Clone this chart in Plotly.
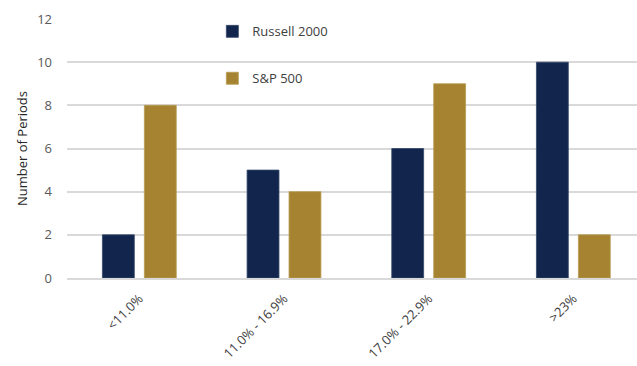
import plotly.graph_objects as go

categories = ["<11.0%", "11.0% - 16.9%", "17.0% - 22.9%", ">23%"]
russell = [2, 5, 6, 10]
sp500 = [8, 4, 9, 2]
y_ticks = [0, 2, 4, 6, 8, 10, 12]

navy = "#12264d"
gold = "#a58331"

fig = go.Figure()
fig.add_trace(go.Bar(x=categories, y=russell, name="Russell 2000",
                     marker=dict(color=navy, line=dict(color="#34466a", width=0.8)),
                     legendgroup="a"))
fig.add_trace(go.Bar(x=categories, y=sp500, name="S&P 500",
                     marker=dict(color=gold, line=dict(color="#b99a52", width=0.8)),
                     legendgroup="b"))

fig.update_layout(
    width=637, height=366,
    margin=dict(l=67, r=0, t=19, b=88),
    plot_bgcolor="white", paper_bgcolor="white",
    barmode="group", bargap=0.42, bargroupgap=0.24,
    font=dict(family="Open Sans, Arial, sans-serif", color="#404040", size=12),
    legend=dict(x=0.255, y=1.01, xanchor="left", yanchor="top",
                bgcolor="rgba(0,0,0,0)", tracegroupgap=27,
                font=dict(size=13, color="#404040"), itemwidth=30),
    showlegend=True,
)
fig.update_xaxes(
    range=[-0.5, 3.44], tickangle=-45, showgrid=False,
    showline=True, linecolor="#d9d9d9", linewidth=2,
    ticks="", ticklabelstandoff=6, tickfont=dict(size=13, color="#404040"),
)
fig.update_yaxes(
    range=[0, 12], tickvals=y_ticks, showgrid=True, gridcolor="#d9d9d9", gridwidth=1.8,
    zeroline=False, showline=False, ticks="", ticklabelstandoff=14,
    tickfont=dict(size=13, color="#595959"),
    title=dict(text="Number of Periods", font=dict(size=13, color="#262626"), standoff=6),
)

fig.write_html("out.html")
